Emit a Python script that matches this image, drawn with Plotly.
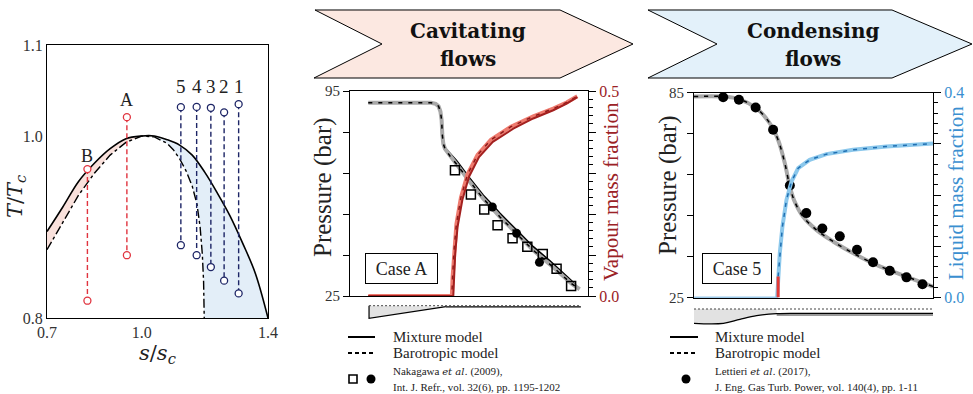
import plotly.graph_objects as go

W, H = 973, 394
FONT = "Liberation Serif"
IFONT = "DejaVu Serif"
RED_AX = "#9b2226"
BLUE_AX = "#3a8fd0"

def px(x):
    return x / W

def py(y):
    return 1 - y / H

# ---------------- Panel 1 : T-s diagram ----------------
s_mix = [0.70, 0.75, 0.80, 0.85, 0.90, 0.95, 1.00, 1.04, 1.08, 1.12, 1.16, 1.20, 1.24, 1.28, 1.32, 1.36, 1.40]
T_mix = [0.895, 0.922, 0.950, 0.970, 0.986, 0.997, 1.000, 1.000, 0.996, 0.990, 0.979, 0.960, 0.937, 0.912, 0.882, 0.849, 0.800]
s_dd = [0.70, 0.75, 0.80, 0.85, 0.90, 0.95, 1.00, 1.04, 1.08, 1.10, 1.12, 1.14, 1.16, 1.175, 1.185, 1.192, 1.196, 1.198]
T_dd = [0.875, 0.905, 0.935, 0.959, 0.979, 0.993, 1.000, 0.999, 0.992, 0.985, 0.975, 0.962, 0.945, 0.925, 0.900, 0.870, 0.840, 0.800]

case_names = ["B", "A", "5", "4", "3", "2", "1"]
case_s = [0.828, 0.953, 1.124, 1.174, 1.219, 1.261, 1.307]
case_T_in = [0.9636, 1.0207, 1.0317, 1.032, 1.031, 1.026, 1.035]
case_T_out = [0.819, 0.869, 0.880, 0.869, 0.856, 0.841, 0.827]
case_label_T = [0.978, 1.040, 1.054, 1.054, 1.054, 1.054, 1.054]
case_kind = ["cav", "cav", "cond", "cond", "cond", "cond", "cond"]

# ---------------- Panel 2 : Case A (cavitating) ----------------
xA_mix = [0.077, 0.340, 0.360, 0.372, 0.380, 0.385, 0.388, 0.392, 0.399, 0.420, 0.448, 0.504, 0.560, 0.595,
          0.630, 0.700, 0.770, 0.840, 0.896, 0.931, 0.950]
pA_mix = [91.0, 91.0, 90.6, 89.8, 88.0, 85.0, 80.0, 77.0, 75.6, 73.6, 71.2, 65.1, 59.4, 56.4,
          53.2, 47.5, 41.8, 37.0, 33.0, 30.2, 28.5]
xA_bar = [0.077, 0.340, 0.360, 0.372, 0.380, 0.385, 0.388, 0.392, 0.399, 0.420, 0.448, 0.504, 0.560, 0.595,
          0.630, 0.700, 0.770, 0.840, 0.896, 0.931, 0.965]
pA_bar = [91.0, 91.0, 90.6, 89.8, 88.0, 85.0, 80.0, 77.0, 75.3, 72.8, 70.0, 63.9, 58.2, 55.2,
          52.0, 46.3, 40.6, 35.8, 31.8, 29.2, 27.3]
xA_vap_mix = [0.077, 0.434, 0.437, 0.442, 0.452, 0.472, 0.500, 0.542, 0.600, 0.686, 0.770, 0.854, 0.910, 0.955]
yA_vap_mix = [0.0, 0.0, 0.039, 0.104, 0.169, 0.234, 0.291, 0.339, 0.376, 0.408, 0.433, 0.453, 0.469, 0.485]
xA_vap_bar = [0.077, 0.428, 0.431, 0.437, 0.447, 0.466, 0.494, 0.536, 0.592, 0.676, 0.770, 0.854, 0.910, 0.955]
yA_vap_bar = [0.0, 0.0, 0.045, 0.110, 0.175, 0.240, 0.297, 0.344, 0.381, 0.413, 0.438, 0.457, 0.472, 0.487]
xA_exp_sq = [0.441, 0.508, 0.564, 0.620, 0.683, 0.745, 0.810, 0.868, 0.929]
pA_exp_sq = [67.9, 59.7, 54.5, 49.2, 44.7, 41.8, 39.3, 34.3, 28.4]
xA_exp_ci = [0.598, 0.700, 0.796]
pA_exp_ci = [55.4, 46.4, 36.5]
# nozzle outline (normalised)
xA_noz = [0.080, 0.080, 0.403]
yA_noz = [0.85, 0.15, 0.80]
xA_noz_axis = [0.080, 0.970]
yA_noz_axis = [0.85, 0.85]
xA_noz_wall = [0.403, 0.970]
yA_noz_wall = [0.79, 0.79]

# ---------------- Panel 3 : Case 5 (condensing) ----------------
x5_p = [0.0, 0.122, 0.191, 0.261, 0.317, 0.352, 0.380, 0.401, 0.421, 0.456, 0.512, 0.582, 0.665, 0.749,
        0.833, 0.916, 1.0]
p5 = [83.8, 83.8, 83.0, 80.4, 76.0, 71.1, 64.3, 57.5, 53.1, 48.7, 44.8, 41.4, 38.0, 35.0, 32.6, 30.4, 28.2]
x5_exp = [0.122, 0.188, 0.258, 0.331, 0.401, 0.470, 0.537, 0.610, 0.682, 0.749, 0.819, 0.889, 0.956]
p5_exp = [83.6, 82.9, 80.6, 74.1, 57.8, 49.7, 45.2, 42.9, 39.0, 35.3, 32.8, 30.9, 28.9]
x5_liq = [0.0, 0.348, 0.352, 0.359, 0.370, 0.387, 0.408, 0.436, 0.484, 0.554, 0.665, 0.805, 1.0]
y5_liq = [0.0, 0.0, 0.041, 0.0865, 0.1385, 0.1906, 0.2263, 0.2524, 0.2686, 0.2797, 0.2881, 0.2946, 0.3005]
x5_meta = [0.352, 0.352]
y5_meta = [0.0, 0.041]
x5_noz = [0.0, 0.0, 0.123, 0.192, 0.262, 0.346, 0.346]
y5_noz = [0.818, 0.168, 0.168, 0.35, 0.514, 0.605, 0.818]
x5_wall = [0.0, 0.123, 0.192, 0.262, 0.346, 0.43, 1.0]
y5_wall = [0.168, 0.168, 0.35, 0.514, 0.605, 0.623, 0.623]

fig = go.Figure()

# --- panel 1 traces ---
pink_x = [s for s in s_mix if s <= 1.0] + [s for s in reversed(s_dd) if s <= 1.0]
pink_y = [t for s, t in zip(s_mix, T_mix) if s <= 1.0] + [t for s, t in reversed(list(zip(s_dd, T_dd))) if s <= 1.0]
blue_x = [s for s in s_mix if s >= 1.04] + [s for s in reversed(s_dd) if s >= 1.04]
blue_y = [t for s, t in zip(s_mix, T_mix) if s >= 1.04] + [t for s, t in reversed(list(zip(s_dd, T_dd))) if s >= 1.04]
fig.add_trace(go.Scatter(x=pink_x, y=pink_y, fill="toself", fillcolor="#f9e1dc", line=dict(width=0),
                         mode="lines", xaxis="x", yaxis="y", hoverinfo="skip"))
fig.add_trace(go.Scatter(x=blue_x, y=blue_y, fill="toself", fillcolor="#e3eef8", line=dict(width=0),
                         mode="lines", xaxis="x", yaxis="y", hoverinfo="skip"))
fig.add_trace(go.Scatter(x=s_dd, y=T_dd, mode="lines", line=dict(color="black", width=1.4, dash="dashdot"),
                         xaxis="x", yaxis="y"))
fig.add_trace(go.Scatter(x=s_mix, y=T_mix, mode="lines", line=dict(color="black", width=1.6),
                         xaxis="x", yaxis="y", line_shape="spline"))
for name, s, t1, t2, kind in zip(case_names, case_s, case_T_in, case_T_out, case_kind):
    col = "#e0343f" if kind == "cav" else "#1d2566"
    fig.add_trace(go.Scatter(x=[s, s], y=[t1, t2], mode="lines+markers",
                             line=dict(color=col, width=1.4, dash="5px,3px"),
                             marker=dict(symbol="circle", size=7, color="white", line=dict(color=col, width=1.3)),
                             xaxis="x", yaxis="y"))

# --- panel 2 traces ---
fig.add_trace(go.Scatter(x=xA_mix, y=pA_mix, mode="lines", line=dict(color="black", width=1.8),
                         xaxis="x2", yaxis="y2"))
fig.add_trace(go.Scatter(x=xA_bar, y=pA_bar, mode="lines", line=dict(color="#a8a8a8", width=4),
                         xaxis="x2", yaxis="y2"))
fig.add_trace(go.Scatter(x=xA_bar, y=pA_bar, mode="lines", line=dict(color="black", width=1.5, dash="4px,6px"),
                         xaxis="x2", yaxis="y2"))
fig.add_trace(go.Scatter(x=xA_exp_sq, y=pA_exp_sq, mode="markers",
                         marker=dict(symbol="square-open", size=9, color="black", line=dict(width=1.5)),
                         xaxis="x2", yaxis="y2"))
fig.add_trace(go.Scatter(x=xA_exp_ci, y=pA_exp_ci, mode="markers",
                         marker=dict(symbol="circle", size=9, color="black"),
                         xaxis="x2", yaxis="y2"))
fig.add_trace(go.Scatter(x=xA_vap_bar, y=yA_vap_bar, mode="lines", line=dict(color="#ee7a6e", width=4),
                         xaxis="x2", yaxis="y3"))
fig.add_trace(go.Scatter(x=xA_vap_bar, y=yA_vap_bar, mode="lines", line=dict(color="#8e1c1c", width=1.5, dash="4px,6px"),
                         xaxis="x2", yaxis="y3"))
fig.add_trace(go.Scatter(x=xA_vap_mix, y=yA_vap_mix, mode="lines", line=dict(color="#a3201f", width=2),
                         xaxis="x2", yaxis="y3"))
# nozzle A
fig.add_trace(go.Scatter(x=xA_noz, y=yA_noz, fill="toself", fillcolor="#e2e2e2", mode="lines",
                         line=dict(color="black", width=1.2), xaxis="x4", yaxis="y6"))
fig.add_trace(go.Scatter(x=xA_noz_wall, y=yA_noz_wall, mode="lines", line=dict(color="black", width=1.2),
                         xaxis="x4", yaxis="y6"))
fig.add_trace(go.Scatter(x=xA_noz_axis, y=yA_noz_axis, mode="lines", line=dict(color="#444", width=1, dash="2px,2px"),
                         xaxis="x4", yaxis="y6"))

# --- panel 3 traces ---
fig.add_trace(go.Scatter(x=x5_p, y=p5, mode="lines", line=dict(color="black", width=1.8, shape="spline"),
                         xaxis="x3", yaxis="y4"))
fig.add_trace(go.Scatter(x=x5_p, y=p5, mode="lines", line=dict(color="#a8a8a8", width=4, shape="spline"),
                         xaxis="x3", yaxis="y4"))
fig.add_trace(go.Scatter(x=x5_p, y=p5, mode="lines", line=dict(color="black", width=1.5, dash="4px,6px", shape="spline"),
                         xaxis="x3", yaxis="y4"))
fig.add_trace(go.Scatter(x=x5_exp, y=p5_exp, mode="markers", marker=dict(symbol="circle", size=10, color="black"),
                         xaxis="x3", yaxis="y4"))
fig.add_trace(go.Scatter(x=x5_liq, y=y5_liq, mode="lines", line=dict(color="#3a93d3", width=1.4),
                         xaxis="x3", yaxis="y5"))
fig.add_trace(go.Scatter(x=x5_liq[1:], y=y5_liq[1:], mode="lines", line=dict(color="#8cc8ec", width=4),
                         xaxis="x3", yaxis="y5"))
fig.add_trace(go.Scatter(x=x5_liq[2:], y=y5_liq[2:], mode="lines", line=dict(color="#1f6fb2", width=1.5, dash="4px,6px"),
                         xaxis="x3", yaxis="y5"))
fig.add_trace(go.Scatter(x=x5_meta, y=y5_meta, mode="lines", line=dict(color="#e53935", width=3),
                         xaxis="x3", yaxis="y5"))
# nozzle 5
fig.add_trace(go.Scatter(x=x5_noz, y=y5_noz, fill="toself", fillcolor="#e2e2e2", mode="lines",
                         line=dict(width=0), xaxis="x5", yaxis="y7"))
fig.add_trace(go.Scatter(x=[0.346, 1.0], y=[0.55, 0.55], mode="lines", line=dict(color="#999", width=2.2),
                         xaxis="x5", yaxis="y7"))
fig.add_trace(go.Scatter(x=x5_wall, y=y5_wall, mode="lines", line=dict(color="black", width=1.2, shape="spline"),
                         xaxis="x5", yaxis="y7"))
fig.add_trace(go.Scatter(x=[0.0, 1.0], y=[0.818, 0.818], mode="lines", line=dict(color="#444", width=1, dash="2px,2px"),
                         xaxis="x5", yaxis="y7"))

axis_common = dict(showgrid=False, zeroline=False, showline=True, linecolor="black", linewidth=1.2,
                   automargin=False, tickfont=dict(family=FONT, size=15, color="#333"))

minor_ticks = dict(ticks="outside", ticklen=4, tickcolor="black", tickwidth=1, tickmode="linear", tick0=0, dtick=0.02)

fig.update_layout(
    width=W, height=394, autosize=False, showlegend=False,
    margin=dict(l=0, r=0, t=0, b=0, pad=0),
    paper_bgcolor="white", plot_bgcolor="white",
    xaxis=dict(axis_common, domain=[px(47), px(268)], range=[0.7, 1.4], anchor="y", mirror=True,
               tickvals=[0.7, 1.0, 1.4], ticktext=["0.7", "1.0", "1.4"], ticks="",
               tickfont=dict(family=FONT, size=16, color="#333")),
    yaxis=dict(axis_common, domain=[py(318), py(45)], range=[0.8, 1.1], anchor="x", mirror=True,
               tickvals=[0.8, 1.0, 1.1], ticktext=["0.8", "1.0", "1.1"], ticks="",
               tickfont=dict(family=FONT, size=16, color="#333")),
    xaxis2=dict(axis_common, domain=[px(350), px(588)], range=[0, 1], anchor="y2", mirror=True,
                showticklabels=False, ticks=""),
    yaxis2=dict(axis_common, domain=[py(296), py(91)], range=[25, 95], anchor="x2",
                tickvals=[25, 39, 53, 67, 81, 95], ticktext=["25", "", "", "", "", "95"],
                ticks="outside", ticklen=6, tickcolor="black"),
    yaxis3=dict(axis_common, overlaying="y2", side="right", range=[0, 0.5], anchor="x2",
                tickvals=[0, 0.1, 0.2, 0.3, 0.4, 0.5], ticktext=["0.0", "", "", "", "", "0.5"],
                ticks="outside", ticklen=7, tickcolor="black", minor=minor_ticks,
                tickfont=dict(family=FONT, size=16, color=RED_AX)),
    xaxis3=dict(axis_common, domain=[px(694), px(933)], range=[0, 1], anchor="y4", mirror=True,
                showticklabels=False, ticks=""),
    yaxis4=dict(axis_common, domain=[py(297.5), py(92.5)], range=[25, 85], anchor="x3",
                tickvals=[25, 37, 49, 61, 73, 85], ticktext=["25", "", "", "", "", "85"],
                ticks="outside", ticklen=6, tickcolor="black"),
    yaxis5=dict(axis_common, overlaying="y4", side="right", range=[0, 0.4], anchor="x3",
                tickvals=[0, 0.1, 0.2, 0.3, 0.4], ticktext=["0.0", "", "", "", "0.4"],
                ticks="outside", ticklen=7, tickcolor="black", minor=minor_ticks,
                tickfont=dict(family=FONT, size=16, color=BLUE_AX)),
    xaxis4=dict(domain=[px(350), px(588)], range=[0, 1], anchor="y6", visible=False, automargin=False),
    yaxis6=dict(domain=[py(321), py(303)], range=[0, 1], anchor="x4", visible=False, automargin=False),
    xaxis5=dict(domain=[px(694), px(933)], range=[0, 1], anchor="y7", visible=False, automargin=False),
    yaxis7=dict(domain=[py(327), py(305)], range=[0, 1], anchor="x5", visible=False, automargin=False),
)

annotations = []

def ann(x, y, text, size=15, color="#222", xanchor="center", yanchor="middle", angle=0, family=FONT):
    annotations.append(dict(x=px(x), y=py(y), xref="paper", yref="paper", text=text, showarrow=False,
                            font=dict(family=family, size=size, color=color),
                            xanchor=xanchor, yanchor=yanchor, textangle=angle))

# panel 1 labels
for name, s, tl in zip(case_names, case_s, case_label_T):
    annotations.append(dict(x=s, y=tl, xref="x", yref="y", text=name, showarrow=False,
                            font=dict(family=FONT, size=19 if name not in "AB" else 18, color="#222"),
                            xanchor="center", yanchor="middle"))
ann(16, 197, "<i>T</i>/<i>T</i><sub><i>c</i></sub>", size=21, angle=-90, family=IFONT)
ann(157, 354, "<i>s</i>/<i>s</i><sub><i>c</i></sub>", size=21, family=IFONT)

# axis titles panel 2 & 3
ann(323, 187, "Pressure (bar)", size=25, angle=-90)
ann(611, 192, "Vapour mass fraction", size=21, color=RED_AX, angle=-90)
ann(668, 185, "Pressure (bar)", size=25, angle=-90)
ann(956, 193, "Liquid mass fraction", size=21, color=BLUE_AX, angle=-90)

# case boxes
annotations.append(dict(x=px(401.7), y=py(268.4), xref="paper", yref="paper", text="Case A", showarrow=False,
                        font=dict(family=FONT, size=18, color="#222"), width=71, height=29,
                        bordercolor="black", borderwidth=1, borderpad=0, bgcolor="white",
                        xanchor="center", yanchor="middle"))
annotations.append(dict(x=px(736.7), y=py(268.4), xref="paper", yref="paper", text="Case 5", showarrow=False,
                        font=dict(family=FONT, size=18, color="#222"), width=68, height=29,
                        bordercolor="black", borderwidth=1, borderpad=0, bgcolor="white",
                        xanchor="center", yanchor="middle"))

# banners text
ann(468, 31, "<b>Cavitating</b>", size=20, color="#111", family="DejaVu Serif")
ann(468, 59, "<b>flows</b>", size=20, color="#111", family="DejaVu Serif")
ann(813, 31, "<b>Condensing</b>", size=20, color="#111", family="DejaVu Serif")
ann(813, 59, "<b>flows</b>", size=20, color="#111", family="DejaVu Serif")

# legends
ETAL = "<span style='font-family:DejaVu Serif;font-style:italic;font-size:10px'>et al.</span>"
ann(391, 337, "Mixture model", size=15, xanchor="left")
ann(391, 353, "Barotropic model", size=15, xanchor="left")
ann(391, 371, "Nakagawa " + ETAL + " (2009),", size=11, xanchor="left")
ann(391, 387, "Int. J. Refr., vol. 32(6), pp. 1195-1202", size=11, xanchor="left")
ann(713, 337, "Mixture model", size=15, xanchor="left")
ann(713, 353, "Barotropic model", size=15, xanchor="left")
ann(713, 371, "Lettieri " + ETAL + " (2017),", size=11, xanchor="left")
ann(713, 387, "J. Eng. Gas Turb. Power, vol. 140(4), pp. 1-11", size=11, xanchor="left")

fig.update_layout(annotations=annotations)

shapes = []

def path(points):
    return "M " + " L ".join(f"{px(x):.5f},{py(y):.5f}" for x, y in points) + " Z"

shapes.append(dict(type="path", xref="paper", yref="paper",
                   path=path([(315, 10), (560, 10), (633, 44), (560, 78), (314, 78), (382, 44)]),
                   fillcolor="#fce8e1", line=dict(color="black", width=1), layer="below"))
shapes.append(dict(type="path", xref="paper", yref="paper",
                   path=path([(648, 10), (892, 10), (972, 44), (892, 78), (648, 78), (717, 44)]),
                   fillcolor="#e3f1fa", line=dict(color="black", width=1), layer="below"))

def seg(x0, y0, x1, y1, dash="solid", width=2):
    shapes.append(dict(type="line", xref="paper", yref="paper", x0=px(x0), y0=py(y0), x1=px(x1), y1=py(y1),
                       line=dict(color="black", width=width, dash=dash)))

seg(348, 337, 375, 337)
seg(348, 353, 375, 353, dash="4px,3px")
seg(670, 337, 698, 337)
seg(670, 353, 698, 353, dash="4px,3px")
shapes.append(dict(type="rect", xref="paper", yref="paper", x0=px(349), x1=px(357), y0=py(383), y1=py(375),
                   line=dict(color="black", width=1.6)))
shapes.append(dict(type="circle", xref="paper", yref="paper", x0=px(366.5), x1=px(375.5), y0=py(383.5), y1=py(374.5),
                   fillcolor="black", line=dict(color="black", width=0)))
shapes.append(dict(type="circle", xref="paper", yref="paper", x0=px(681.5), x1=px(690.5), y0=py(383.5), y1=py(374.5),
                   fillcolor="black", line=dict(color="black", width=0)))
fig.update_layout(shapes=shapes)

fig.write_html("out.html")
